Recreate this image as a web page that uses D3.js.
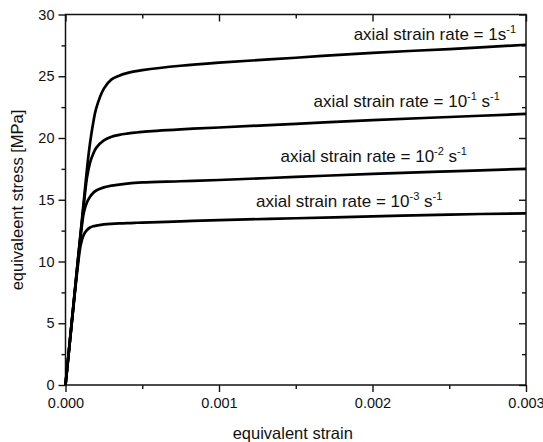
<!DOCTYPE html>
<html>
<head>
<meta charset="utf-8">
<script src="https://cdn.jsdelivr.net/npm/d3@7"></script>
<style>
  html, body { margin: 0; padding: 0; background: #fff; }
  svg text { font-family: "Liberation Sans", Arial, Helvetica, sans-serif; fill: #111; }
</style>
</head>
<body>
<svg id="chart"></svg>
<script>
// strain grid shared by all curves
const strain = [0, 0.00004, 0.00008, 0.0001, 0.00012, 0.00014, 0.00016, 0.00018, 0.0002,
  0.00025, 0.0003, 0.00035, 0.0004, 0.00045, 0.0005, 0.00075, 0.001, 0.0015, 0.002, 0.0025, 0.003];

// equivalent stress [MPa] for each axial strain rate
const rate1 = [0, 5.0, 10.0, 12.5, 15.0, 17.5, 19.6, 21.2, 22.4,
  24.0, 24.75, 25.05, 25.25, 25.4, 25.5, 25.85, 26.1, 26.5, 26.9, 27.2, 27.55];
const rate1e1 = [0, 5.0, 10.0, 12.4, 14.7, 16.8, 18.0, 18.7, 19.2,
  19.8, 20.1, 20.25, 20.35, 20.43, 20.5, 20.7, 20.85, 21.15, 21.45, 21.7, 21.95];
const rate1e2 = [0, 5.0, 9.9, 12.2, 14.0, 14.8, 15.25, 15.55, 15.75,
  16.0, 16.15, 16.23, 16.3, 16.36, 16.4, 16.5, 16.6, 16.85, 17.1, 17.3, 17.5];
const rate1e3 = [0, 4.9, 9.6, 11.4, 12.2, 12.55, 12.75, 12.85, 12.9,
  13.0, 13.05, 13.08, 13.1, 13.13, 13.15, 13.25, 13.35, 13.5, 13.65, 13.8, 13.9];

const series = [rate1, rate1e1, rate1e2, rate1e3];

// annotation text: [base, exponent, unit, unitExponent]
const labels = [
  ["axial strain rate = 1s", "-1", "", ""],
  ["axial strain rate = 10", "-1", " s", "-1"],
  ["axial strain rate = 10", "-2", " s", "-1"],
  ["axial strain rate = 10", "-3", " s", "-1"]
];

const xTicks = [0, 0.001, 0.002, 0.003];
const yTicks = [0, 5, 10, 15, 20, 25, 30];

const width = 543, height = 442;
const margin = { top: 14.5, left: 65.5, bottom: 57, right: 17 };
const iwidth = width - margin.left - margin.right;
const iheight = height - margin.top - margin.bottom;

const svg = d3.select("#chart").attr("width", width).attr("height", height);
const g = svg.append("g").attr("transform", `translate(${margin.left},${margin.top})`);

const x = d3.scaleLinear().domain([0, 0.003]).range([0, iwidth]);
const y = d3.scaleLinear().domain([0, 30]).range([iheight, 0]);

const xMinor = d3.range(0, 0.00301, 0.0005).filter(v => !xTicks.some(t => Math.abs(t - v) < 1e-9));
const yMinor = d3.range(2.5, 30, 5);

function styleAxis(sel) {
  sel.select(".domain").remove();
  sel.selectAll("line").attr("stroke", "#111").attr("stroke-width", 1.4);
  sel.selectAll("text").style("font-size", "14.5px");
}

// bottom axis (outward ticks)
g.append("g").attr("transform", `translate(0,${iheight})`)
  .call(d3.axisBottom(x).tickValues(xTicks).tickFormat(d3.format(".3f")).tickSize(7).tickPadding(6))
  .call(styleAxis);
g.append("g").attr("transform", `translate(0,${iheight})`)
  .call(d3.axisBottom(x).tickValues(xMinor).tickFormat("").tickSize(4))
  .call(styleAxis);

// left axis (outward ticks)
g.append("g")
  .call(d3.axisLeft(y).tickValues(yTicks).tickSize(7).tickPadding(4))
  .call(styleAxis);
g.append("g")
  .call(d3.axisLeft(y).tickValues(yMinor).tickFormat("").tickSize(4))
  .call(styleAxis);

// top axis (inward ticks)
g.append("g")
  .call(d3.axisTop(x).tickValues(xTicks).tickFormat("").tickSize(-7))
  .call(styleAxis);
g.append("g")
  .call(d3.axisTop(x).tickValues(xMinor).tickFormat("").tickSize(-4))
  .call(styleAxis);

// right axis (inward ticks)
g.append("g").attr("transform", `translate(${iwidth},0)`)
  .call(d3.axisRight(y).tickValues(yTicks).tickFormat("").tickSize(-7))
  .call(styleAxis);
g.append("g").attr("transform", `translate(${iwidth},0)`)
  .call(d3.axisRight(y).tickValues(yMinor).tickFormat("").tickSize(-4))
  .call(styleAxis);

// frame
g.append("rect")
  .attr("width", iwidth).attr("height", iheight)
  .attr("fill", "none").attr("stroke", "#111").attr("stroke-width", 1.5);

// curves
const line = d3.line()
  .x((d, i) => x(strain[i]))
  .y(d => y(d))
  .curve(d3.curveCatmullRom.alpha(0.5));

g.selectAll("path.curve").data(series).enter().append("path")
  .attr("class", "curve")
  .attr("d", line)
  .attr("fill", "none")
  .attr("stroke", "#000")
  .attr("stroke-width", 2.7)
  .attr("stroke-linejoin", "round");

// annotations, anchored in data units (right end, baseline)
const labelAnchors = [[0.002935, 27.95], [0.002830, 22.55], [0.002615, 18.05], [0.002455, 14.4]];

labels.forEach((lab, i) => {
  const t = g.append("text")
    .attr("x", x(labelAnchors[i][0]))
    .attr("y", y(labelAnchors[i][1]))
    .attr("text-anchor", "end")
    .style("font-size", "17px");
  t.append("tspan").text(lab[0]);
  t.append("tspan").attr("dy", -7).style("font-size", "11px").text(lab[1]);
  if (lab[2]) {
    t.append("tspan").attr("dy", 7).text(lab[2]);
    t.append("tspan").attr("dy", -7).style("font-size", "11px").text(lab[3]);
  }
});

// axis titles
svg.append("text")
  .attr("x", margin.left + iwidth / 2 - 3)
  .attr("y", 439)
  .attr("text-anchor", "middle")
  .style("font-size", "16.5px")
  .text("equivalent strain");

svg.append("text")
  .attr("text-anchor", "middle")
  .attr("transform", "translate(23," + 200 + ")rotate(-90)")
  .style("font-size", "16.5px")
  .text("equivaleent stress [MPa]");
</script>
</body>
</html>
